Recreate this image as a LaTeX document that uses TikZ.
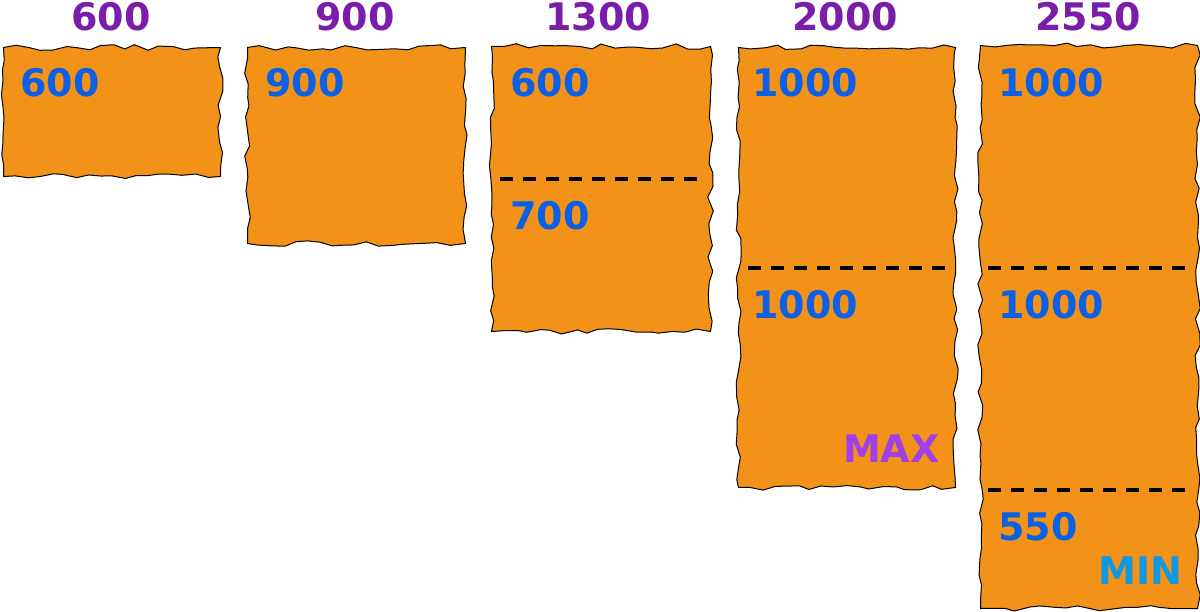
\documentclass[tikz,border=0pt]{standalone}
\usepackage{fontspec}
\setmainfont{DejaVu Sans}
\definecolor{blockfill}{RGB}{243,146,24}
\definecolor{headcol}{RGB}{122,30,170}
\definecolor{partcol}{RGB}{12,96,230}
\definecolor{maxcol}{RGB}{160,64,232}
\definecolor{mincol}{RGB}{16,152,224}
\usetikzlibrary{decorations.pathmorphing, positioning}

\begin{document}
\pgfmathsetseed{7}
\begin{tikzpicture}[x=0.5pt, y=-0.5pt,
    blob/.style={draw=black, fill=blockfill, line width=0.5pt, anchor=north west,
                 inner sep=0pt, decorate,
                 decoration={random steps, segment length=6pt, amplitude=1.4pt}},
    head/.style={font=\bfseries\fontsize{19}{20}\selectfont, text=headcol, inner sep=0pt},
    part/.style={font=\bfseries\fontsize{19}{20}\selectfont, text=partcol, anchor=west, inner sep=0pt},
    divider/.style={line width=2pt, dash pattern=on 6.5pt off 5pt}
]
    \useasboundingbox (0,0) rectangle (1200,611);

    % blocks
    \node[blob, minimum width=108.5pt, minimum height=64.5pt] (b600) at (3,47) {};
    \node[blob, minimum width=109pt, minimum height=98pt] (b900) at (247,47) {};
    \node[blob, minimum width=109.5pt, minimum height=142.5pt] (b1300) at (491,46) {};
    \node[blob, minimum width=108.5pt, minimum height=220pt] (b2000) at (738,47) {};
    \node[blob, minimum width=108.5pt, minimum height=281.5pt] (b2550) at (980,45) {};

    % totals
    \node[head] (h600) at (111,17) {600};
    \node[head] (h900) at (355,17) {900};
    \node[head] (h1300) at (598,17) {1300};
    \node[head] (h2000) at (845,17) {2000};
    \node[head] (h2550) at (1088,17) {2550};

    % cuts
    \draw[divider] (500,179) -- (705,179);
    \draw[divider] (748,268) -- (950,268);
    \draw[divider] (988,268) -- (1190,268);
    \draw[divider] (988,490) -- (1190,490);

    % pieces
    \node[part] (p600) at (20,83) {600};
    \node[part] (p900) at (265,83) {900};
    \node[part] (p1300a) at (510,83) {600};
    \node[part] (p1300b) at (510,216) {700};
    \node[part] (p2000a) at (752,83) {1000};
    \node[part] (p2000b) at (752,305) {1000};
    \node[part] (p2550a) at (998,83) {1000};
    \node[part] (p2550b) at (998,305) {1000};
    \node[part] (p2550c) at (998,527) {550};

    \node[part, anchor=east, text=maxcol] (max) at (940,449) {MAX};
    \node[part, anchor=east, text=mincol] (min) at (1183,571) {MIN};
\end{tikzpicture}
\end{document}
